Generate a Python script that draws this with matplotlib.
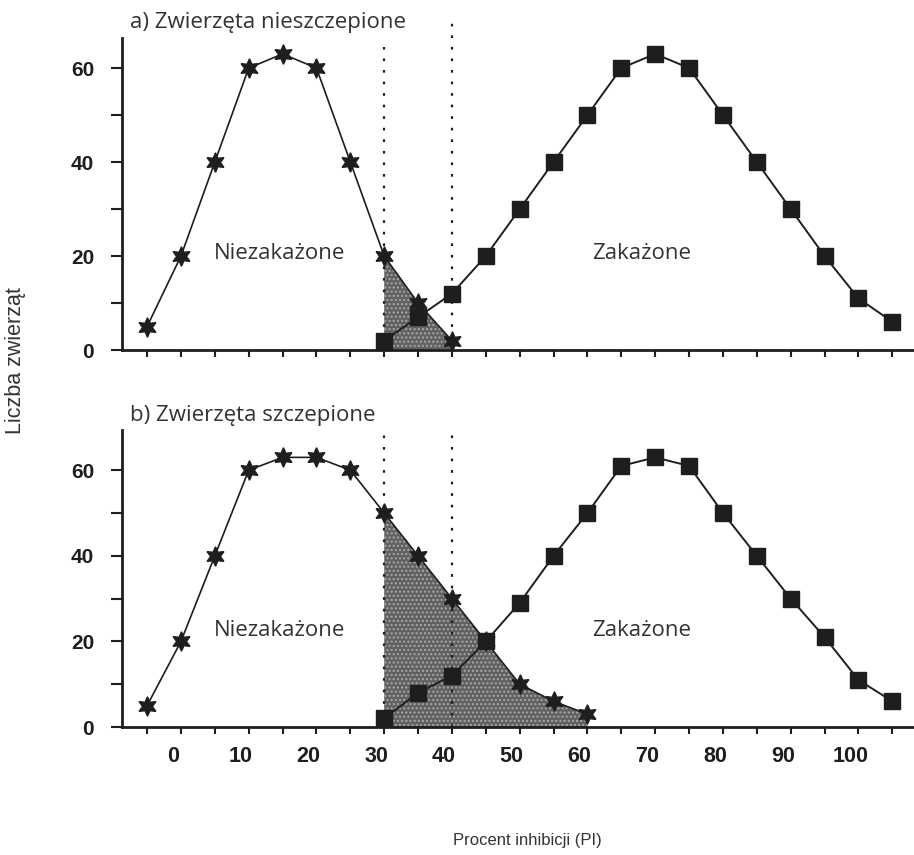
import matplotlib
matplotlib.use('Agg')
import matplotlib.pyplot as plt
import matplotlib.transforms as mtransforms
from matplotlib.ticker import FixedLocator

# data
pi_stars_a = [-5, 0, 5, 10, 15, 20, 25, 30, 35, 40]
uninfected_a = [5, 20, 40, 60, 63, 60, 40, 20, 10, 2]
pi_squares = [30, 35, 40, 45, 50, 55, 60, 65, 70, 75, 80, 85, 90, 95, 100, 105]
infected_a = [2, 7, 12, 20, 30, 40, 50, 60, 63, 60, 50, 40, 30, 20, 11, 6]

pi_stars_b = [-5, 0, 5, 10, 15, 20, 25, 30, 35, 40, 45, 50, 55, 60]
uninfected_b = [5, 20, 40, 60, 63, 63, 60, 50, 40, 30, 20, 10, 6, 3]
infected_b = [2, 8, 12, 20, 29, 40, 50, 61, 63, 61, 50, 40, 30, 21, 11, 6]

cutoffs = [30, 40]
x_tick_labels = [0, 10, 20, 30, 40, 50, 60, 70, 80, 90, 100]
x_minor = [-5, 5, 15, 25, 35, 45, 55, 65, 75, 85, 95, 105]
y_tick_labels = [0, 20, 40, 60]

ink = '#1e1e1e'
text_col = '#333333'
title_font = ['Open Sans', 'DejaVu Sans']
num_font = ['Liberation Sans', 'DejaVu Sans']
star = (6, 1, 0)

fig = plt.figure(figsize=(9.14, 8.55), dpi=100, facecolor='w')


def draw_panel(ax, xs, stars, squares, ylim_top, title, label_y, show_xlabels, cut_tops):
    # shaded overlap under the uninfected curve past the first cutoff
    sx = [x for x in xs if x >= cutoffs[0]]
    sy = [y for x, y in zip(xs, stars) if x >= cutoffs[0]]
    ax.fill_between(sx, sy, 0, facecolor='#616161', edgecolor='#a8a8a8',
                    hatch='....', linewidth=0, zorder=1)

    for c, top in zip(cutoffs, cut_tops):
        ax.plot([c, c], [0, top], linestyle=(0, (1.2, 4)),
                color=ink, linewidth=1.6, clip_on=False, zorder=2)

    ax.plot(xs, stars, color=ink, linewidth=1.2, marker=star, markersize=14,
            markerfacecolor=ink, markeredgecolor=ink, zorder=4, clip_on=False)
    ax.plot(pi_squares, squares, color=ink, linewidth=1.4, marker='s', markersize=12,
            markerfacecolor=ink, markeredgecolor=ink, zorder=3, clip_on=False)

    ax.set_xlim(-8.7, 108.2)
    ax.set_ylim(0, ylim_top)
    for s in ['top', 'right']:
        ax.spines[s].set_visible(False)
    for s in ['left', 'bottom']:
        ax.spines[s].set_color(ink)
        ax.spines[s].set_linewidth(2.0)

    ax.xaxis.set_major_locator(FixedLocator(x_tick_labels))
    ax.xaxis.set_minor_locator(FixedLocator(x_minor))
    ax.yaxis.set_major_locator(FixedLocator(y_tick_labels))
    ax.yaxis.set_minor_locator(FixedLocator([10, 30, 50]))
    ax.tick_params(axis='x', which='both', direction='out', length=5, width=1.5, color=ink,
                   pad=9, labelsize=15.5, labelcolor=ink)
    ax.tick_params(axis='y', which='both', direction='out', length=8, width=1.5, color=ink,
                   pad=12, labelsize=15, labelcolor=ink)
    for lab in ax.get_yticklabels():
        lab.set_family(num_font)
        lab.set_weight('bold')
    if show_xlabels:
        ax.set_xticks(x_tick_labels)
        ax.set_xticklabels([str(v) for v in x_tick_labels], family=num_font, weight='bold')
        # the printed labels sit a little left of their ticks
        shift = mtransforms.ScaledTranslation(-8 / 100, 0, fig.dpi_scale_trans)
        for lab in ax.get_xticklabels():
            lab.set_transform(lab.get_transform() + shift)
    else:
        ax.set_xticklabels([])

    ax.text(-7.5, ylim_top + 3.3, title, fontsize=16, family=title_font, color=text_col,
            ha='left', va='center', clip_on=False)
    ax.text(14.5, label_y, 'Niezakażone', fontsize=16, family=title_font, color=text_col,
            ha='center', va='center')
    ax.text(68, label_y, 'Zakażone', fontsize=16, family=title_font, color=text_col,
            ha='center', va='center')


top_ax = fig.add_axes([0.1335, 0.5906, 0.8665, 0.365])
draw_panel(top_ax, pi_stars_a, uninfected_a, infected_a, 66.4,
           'a) Zwierzęta nieszczepione', 20.5, False, [64.5, 69.8])

bottom_ax = fig.add_axes([0.1335, 0.1497, 0.8665, 0.3474])
draw_panel(bottom_ax, pi_stars_b, uninfected_b, infected_b, 69.4,
           'b) Zwierzęta szczepione', 22.5, True, [70.0, 70.0])

fig.text(0.0175, 0.578, 'Liczba zwierząt', rotation=90, fontsize=15.5,
         family=['Liberation Sans', 'DejaVu Sans'], color=text_col, ha='center', va='center')
fig.text(0.577, 0.017, 'Procent inhibicji (PI)', fontsize=12,
         family=['Liberation Sans', 'DejaVu Sans'], color=text_col, ha='center', va='center')

fig.savefig('out.png', dpi=100, facecolor='w')
